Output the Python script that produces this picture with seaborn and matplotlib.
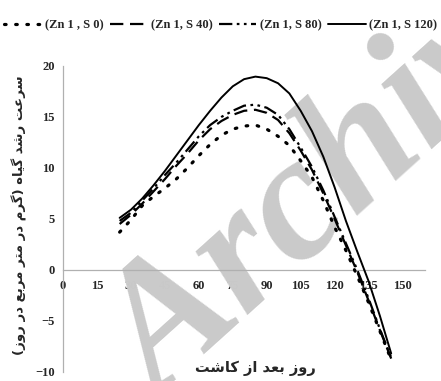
import matplotlib
matplotlib.use("Agg")
import matplotlib.pyplot as plt
from matplotlib.font_manager import FontProperties
import numpy as np
import pandas as pd
import seaborn as sns

# ---------------- data ----------------
days = [25, 30, 35, 40, 45, 50, 55, 60, 65, 70, 75, 80, 85,
        90, 95, 100, 105, 110, 115, 120, 125, 130, 135, 140, 145]
s0 = [3.7, 4.9, 6.3, 7.2, 8.0, 8.9, 10.0, 11.2, 12.3, 13.2, 13.8, 14.1, 14.2,
      13.8, 13.1, 12.2, 10.7, 9.1, 6.8, 4.2, 1.9, -0.6, -3.2, -6.0, -8.8]
s40 = [4.5, 5.4, 6.5, 7.7, 8.9, 10.2, 11.4, 12.7, 13.8, 14.6, 15.2, 15.6, 15.7,
       15.4, 14.7, 13.4, 11.7, 9.8, 7.5, 5.0, 2.4, -0.2, -3.0, -5.9, -8.7]
s80 = [4.8, 5.6, 6.8, 8.0, 9.3, 10.5, 11.8, 13.1, 14.2, 15.0, 15.6, 16.1, 16.2,
       15.9, 15.2, 13.8, 12.0, 10.1, 7.8, 5.2, 2.6, 0.0, -2.8, -5.8, -8.6]
s120 = [5.1, 5.9, 7.0, 8.3, 9.7, 11.2, 12.7, 14.2, 15.6, 16.9, 18.0, 18.7, 18.95,
        18.8, 18.3, 17.3, 15.6, 13.6, 11.1, 8.1, 4.8, 1.8, -1.1, -4.5, -8.2]
series_labels = ["(Zn 1 , S 0)", "(Zn 1, S 40)", "(Zn 1, S 80)", "(Zn 1, S 120)"]
x_ticks = [0, 15, 30, 45, 60, 75, 90, 105, 120, 135, 150]
y_ticks = [-10, -5, 0, 5, 10, 15, 20]
xlabel_fa = "روز بعد از کاشت"
ylabel_fa = "سرعت رشد گیاه (گرم در متر مربع در روز)"
watermark = "Archive"

# ---------------- simple Persian shaping (presentation forms, visual order) -----
FORMS = {
    "ا": ("\uFE8D", "\uFE8E", None, None),
    "ب": ("\uFE8F", "\uFE90", "\uFE91", "\uFE92"),
    "ت": ("\uFE95", "\uFE96", "\uFE97", "\uFE98"),
    "د": ("\uFEA9", "\uFEAA", None, None),
    "ر": ("\uFEAD", "\uFEAE", None, None),
    "ز": ("\uFEAF", "\uFEB0", None, None),
    "س": ("\uFEB1", "\uFEB2", "\uFEB3", "\uFEB4"),
    "ش": ("\uFEB5", "\uFEB6", "\uFEB7", "\uFEB8"),
    "ع": ("\uFEC9", "\uFECA", "\uFECB", "\uFECC"),
    "م": ("\uFEE1", "\uFEE2", "\uFEE3", "\uFEE4"),
    "ه": ("\uFEE9", "\uFEEA", "\uFEEB", "\uFEEC"),
    "و": ("\uFEED", "\uFEEE", None, None),
    "ک": ("\uFB8E", "\uFB8F", "\uFB90", "\uFB91"),
    "گ": ("\uFB92", "\uFB93", "\uFB94", "\uFB95"),
    "ی": ("\uFBFC", "\uFBFD", "\uFBFE", "\uFBFF"),
}


def shape(text):
    out = []
    n = len(text)
    for i, c in enumerate(text):
        if c not in FORMS:
            out.append(c)
            continue
        iso, fin, ini, med = FORMS[c]
        prev = text[i - 1] if i > 0 else ""
        nxt = text[i + 1] if i < n - 1 else ""
        pj = prev in FORMS and FORMS[prev][2] is not None
        nj = ini is not None and nxt in FORMS
        if pj and nj:
            out.append(med)
        elif pj:
            out.append(fin)
        elif nj:
            out.append(ini)
        else:
            out.append(iso)
    s = "".join(reversed(out))
    return s.translate(str.maketrans("()", ")("))


# ---------------- figure ----------------
sns.set_style("white")
plt.rcParams["font.family"] = ["Liberation Serif", "DejaVu Sans"]

df = pd.DataFrame({
    "day": days * 4,
    "value": s0 + s40 + s80 + s120,
    "series": sum([[lab] * len(days) for lab in series_labels], []),
})

fig = plt.figure(figsize=(4.41, 3.81), dpi=100)
ax = fig.add_axes([0.143, 0.024, 0.821, 0.803])

dash_map = {
    series_labels[0]: (0.5, 3.0),
    series_labels[1]: (6, 3),
    series_labels[2]: (6, 2, 1.2, 2, 1.2, 2),
    series_labels[3]: "",
}
sns.lineplot(data=df, x="day", y="value", hue="series", style="series",
             hue_order=series_labels, style_order=series_labels,
             palette=["black"] * 4, dashes=dash_map, ax=ax, legend=False,
             linewidth=1.6)
lws = [2.3, 1.6, 1.6, 1.4]
for ln, lw in zip(ax.lines[:4], lws):
    ln.set_linewidth(lw)
    ln.set_zorder(3)
ax.lines[0].set_dash_capstyle("round")

ax.set_xlim(0, 160)
ax.set_ylim(-10, 20)
ax.set_xticks(x_ticks)
ax.set_yticks(y_ticks)
ax.set_xlabel("")
ax.set_ylabel("")
for s in ["top", "right"]:
    ax.spines[s].set_visible(False)
ax.spines["bottom"].set_position(("data", 0))
for s in ["left", "bottom"]:
    ax.spines[s].set_color("#b0b0b0")
    ax.spines[s].set_linewidth(0.9)
ax.tick_params(direction="out", length=3, width=0.8, color="#b0b0b0",
               labelsize=9, pad=3)
for t in ax.get_xticklabels() + ax.get_yticklabels():
    t.set_fontweight("bold")
    t.set_fontfamily("Liberation Serif")
ax.tick_params(axis="x", pad=4)

# watermark (behind the curves)
ax.text(0.78, 0.53, watermark, transform=fig.transFigure, rotation=42,
        fontsize=128, fontweight="bold", style="italic",
        family="Liberation Serif", color="#cacaca", ha="center", va="center",
        zorder=1, clip_on=False)

# legend
leg_font = FontProperties(family="Liberation Serif", weight="bold", size=9)
fig.legend(ax.lines[:4], series_labels, loc="upper center",
           bbox_to_anchor=(0.5, 0.975), ncol=4, frameon=False, prop=leg_font,
           handlelength=3.0, handletextpad=0.3, columnspacing=0.5,
           borderaxespad=0.4)

# axis titles (Persian)
fig.text(255 / 441, 1 - 368 / 381, shape(xlabel_fa), ha="center", va="center",
         fontsize=10.5, fontweight="bold", family=["DejaVu Sans"])
fig.text(19 / 441, 1 - 215 / 381, shape(ylabel_fa), ha="center", va="center",
         rotation=90, fontsize=9.5, fontweight="bold", family=["DejaVu Sans"])

fig.savefig("out.png", dpi=100)
